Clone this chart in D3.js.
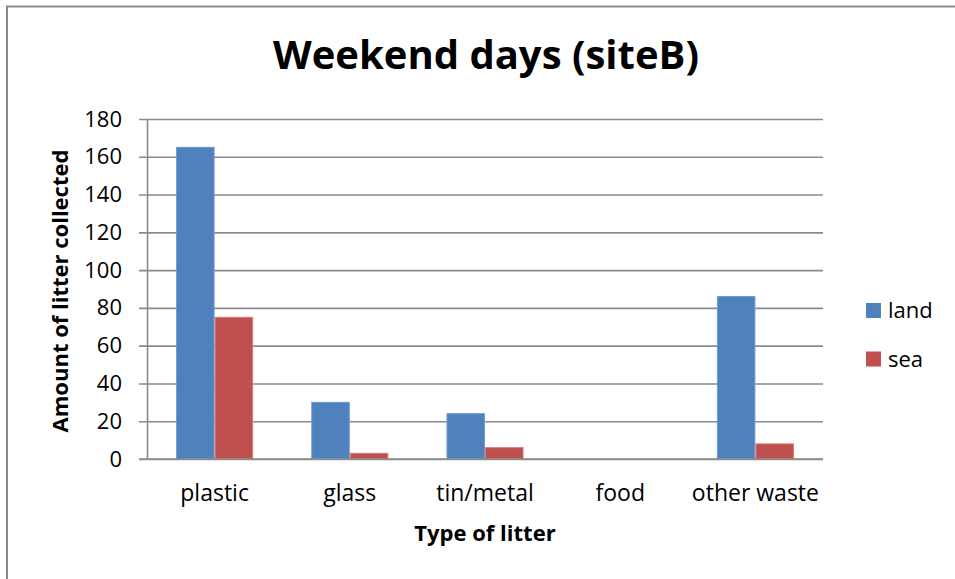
<!DOCTYPE html>
<html>
<head>
<meta charset="utf-8">
<script src="https://cdn.jsdelivr.net/npm/d3@7/dist/d3.min.js"></script>
<style>
  html, body { margin: 0; padding: 0; background: #fff; }
  svg { display: block; }
  text { font-family: "Open Sans", Lato, "DejaVu Sans", sans-serif; fill: #000; }
</style>
</head>
<body>
<script>
const categories = ["plastic", "glass", "tin/metal", "food", "other waste"];
const seriesNames = ["land", "sea"];
const landValues = [165, 30, 24, 0, 86];
const seaValues = [75, 3, 6, 0, 8];
const yTicks = [0, 20, 40, 60, 80, 100, 120, 140, 160, 180];
const colors = ["#4F81BD", "#C0504D"];
const strokeColors = ["#6f9bd1", "#d67a77"];

const W = 955, H = 579;
const margin = { left: 147, right: 955 - 823, top: 119, bottom: 579 - 459 };

const svg = d3.select("body").append("svg").attr("width", W).attr("height", H);

// outer chart border (cropped at right and bottom)
svg.append("path")
  .attr("d", `M7,${H + 5} L7,6.5 L${W + 5},6.5`)
  .attr("fill", "none").attr("stroke", "#8a8a8a").attr("stroke-width", 2);

const x0 = d3.scaleBand().domain(categories)
  .range([margin.left, W - margin.right])
  .paddingInner(0.43).paddingOuter(0.215);
const x1 = d3.scaleBand().domain(seriesNames).range([0, x0.bandwidth()]);
const y = d3.scaleLinear().domain([0, 180]).range([H - margin.bottom, margin.top]);

// gridlines + y axis
const yAxis = d3.axisLeft(y).tickValues(yTicks)
  .tickSize(-(W - margin.right - margin.left)).tickPadding(25).tickSizeOuter(0);
const gy = svg.append("g").attr("transform", `translate(${margin.left},0)`).call(yAxis);
gy.select(".domain").attr("stroke", "#8a8a8a").attr("stroke-width", 1.6);
gy.selectAll(".tick line").attr("stroke", "#8a8a8a").attr("stroke-width", 1.6)
  .attr("x1", -8);
gy.selectAll(".tick text").attr("font-size", 22).attr("fill", "#000")
  .style("font-family", '"Open Sans", Lato, sans-serif');

// bars
const data = categories.map((c, i) => ({ cat: c, vals: [landValues[i], seaValues[i]] }));
const groups = svg.append("g").selectAll("g").data(data).join("g")
  .attr("transform", d => `translate(${x0(d.cat)},0)`);
groups.selectAll("rect").data(d => d.vals.map((v, j) => ({ v, j })))
  .join("rect")
  .attr("x", d => x1(seriesNames[d.j]) + 0.5)
  .attr("width", x1.bandwidth() - 1)
  .attr("y", d => y(d.v))
  .attr("height", d => y(0) - y(d.v))
  .attr("fill", d => colors[d.j])
  .attr("stroke", d => d.v > 0 ? strokeColors[d.j] : "none")
  .attr("stroke-width", 1);

// x axis labels
const xAxis = d3.axisBottom(x0).tickSize(0).tickPadding(26);
const gx = svg.append("g").attr("transform", `translate(0,${y(0)})`).call(xAxis);
gx.select(".domain").remove();
gx.selectAll(".tick text").attr("font-size", 23).attr("fill", "#000")
  .style("font-family", '"Open Sans", Lato, sans-serif');
// bottom axis line
svg.append("line").attr("x1", margin.left - 8).attr("x2", W - margin.right)
  .attr("y1", y(0)).attr("y2", y(0)).attr("stroke", "#8a8a8a").attr("stroke-width", 1.6);

// title
svg.append("text").attr("x", 486).attr("y", 69).attr("text-anchor", "middle")
  .attr("font-size", 40).attr("font-weight", "bold").text("Weekend days (siteB)");

// axis titles
svg.append("text").attr("x", 485).attr("y", 541).attr("text-anchor", "middle")
  .attr("font-size", 22).attr("font-weight", "bold").text("Type of litter");
svg.append("text").attr("transform", "translate(68,291) rotate(-90)")
  .attr("text-anchor", "middle").attr("font-size", 22).attr("font-weight", "bold")
  .text("Amount of litter collected");

// legend
const legend = svg.append("g").selectAll("g").data(seriesNames).join("g")
  .attr("transform", (d, i) => `translate(866,${303 + i * 48.5})`);
legend.append("rect").attr("width", 15).attr("height", 15).attr("fill", (d, i) => colors[i]);
legend.append("text").attr("x", 22).attr("y", 15).attr("font-size", 22).text(d => d);
</script>
</body>
</html>
